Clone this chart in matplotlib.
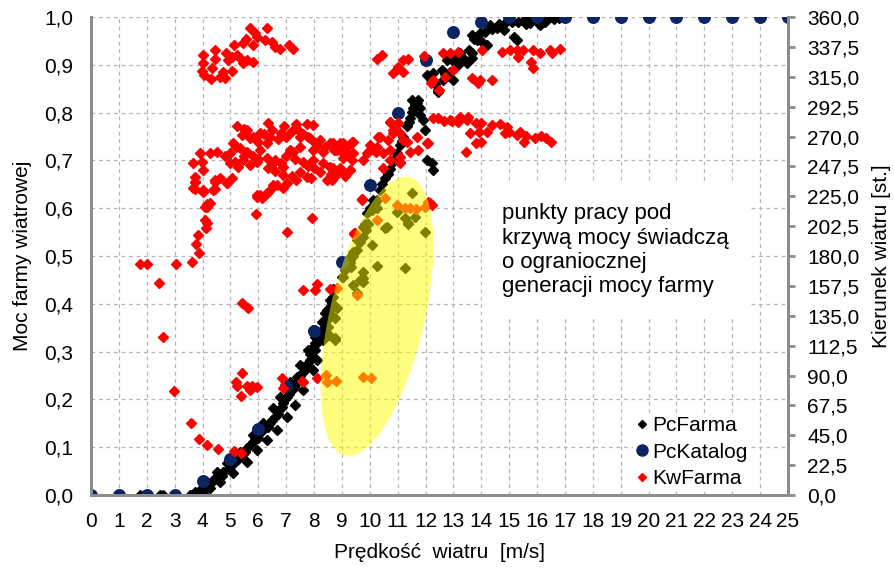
import matplotlib
matplotlib.use("Agg")
import matplotlib.pyplot as plt
import matplotlib.transforms as mtransforms
from matplotlib.patches import Ellipse
from matplotlib.lines import Line2D

plt.rcParams['font.family'] = ['Liberation Sans', 'DejaVu Sans']

# PcKatalog - catalogue power curve (per-unit) at integer wind speeds
katalog_v = list(range(0, 26))
katalog_p = [0, 0, 0, 0, 0.03, 0.075, 0.138, 0.228, 0.343, 0.488, 0.649, 0.80, 0.91,
             0.968, 0.99, 1, 1, 1, 1, 1, 1, 1, 1, 1, 1, 1]

# PcFarma - measured farm power (per-unit) vs wind speed
farma_v = [1.76, 2.0, 2.47, 2.59, 3.55, 3.67, 3.8,
           3.73, 3.91, 4.09, 4.27, 4.39, 4.57, 4.75, 4.99, 5.16, 5.34, 5.52, 5.70, 5.88, 6.06,
           6.24, 6.42, 6.60, 6.76, 6.90, 7.02, 7.20, 7.38, 7.49, 7.67, 7.79, 7.91, 8.03, 8.11,
           8.21, 8.31, 8.39, 8.49, 8.57, 8.63, 8.69,
           3.91, 4.27, 4.63, 5.10, 5.58, 5.94, 6.30, 6.66, 7.02, 7.32, 7.61, 7.97, 8.09, 8.33, 8.51,
           4.15, 4.51, 4.87, 5.34, 5.82, 6.18, 6.54, 6.78, 7.14, 7.49, 7.79, 8.03, 8.27, 8.45,
           4.0, 4.2, 4.45, 4.7, 4.9, 5.05, 5.25, 5.45, 5.6, 5.8, 6.0, 6.15, 6.35, 6.5, 6.7,
           6.85, 6.95, 7.1, 7.28, 7.45, 7.58, 7.72, 7.85, 7.97, 8.15, 8.25, 8.37, 8.44, 8.55, 8.6,
           7.97, 8.39, 8.69, 9.05, 9.29, 9.53, 9.89, 10.13, 10.0, 9.83, 9.41, 9.77, 7.61, 7.38,
           7.86, 8.03,
           8.99, 9.29, 9.53, 9.77, 9.95, 10.07, 10.25, 10.37, 10.55, 10.72, 10.84, 10.96, 11.08,
           11.20, 11.32, 11.44, 11.50, 11.62, 11.74, 11.50, 11.92, 11.98, 12.04, 12.22, 12.28,
           12.46, 11.80,
           9.1, 9.4, 9.65, 9.85, 10.2, 10.45, 10.65, 10.9, 11.15, 11.4, 11.55, 11.7,
           11.62, 11.80, 12.28, 12.10, 12.04, 12.46, 12.64, 12.88, 13.00, 13.24, 13.48, 13.66,
           13.66, 13.84, 14.02, 14.20, 13.96, 14.14, 14.32, 14.56, 14.80, 15.16, 15.28, 15.10,
           15.52, 15.76, 16.12, 16.24, 16.60, 16.78, 15.76, 12.76, 13.18, 12.58, 12.94, 13.66,
           13.24, 16.4, 16.9,
           12.2, 12.35, 12.7, 13.1, 13.35, 13.55, 13.75, 14.4, 14.65, 14.9, 15.3, 15.6, 15.9,
           16.3, 16.5,
           11.50, 10.96, 11.26, 11.62, 11.36, 10.61, 11.98, 10.07, 10.25, 11.26, 9.77, 9.29,
           10.25, 11.38, 10.55, 9.77, 9.65, 9.41, 9.53, 9.31, 9.77, 8.81, 8.75, 8.57, 8.45,
           8.75, 8.55, 8.63, 8.75, 8.51]
farma_p = [0, 0, 0, 0, 0, 0, 0,
           0.007, 0.010, 0.017, 0.024, 0.031, 0.042, 0.049, 0.059, 0.070, 0.080, 0.091, 0.105,
           0.119, 0.129, 0.140, 0.150, 0.164, 0.178, 0.192, 0.206, 0.220, 0.234, 0.248, 0.262,
           0.276, 0.290, 0.303, 0.317, 0.331, 0.345, 0.359, 0.373, 0.387, 0.401, 0.415,
           0.002, 0.014, 0.028, 0.047, 0.070, 0.094, 0.115, 0.136, 0.164, 0.188, 0.220, 0.262,
           0.282, 0.324, 0.352,
           0.028, 0.049, 0.066, 0.091, 0.126, 0.150, 0.181, 0.206, 0.237, 0.272, 0.303, 0.331,
           0.362, 0.387,
           0.005, 0.020, 0.033, 0.040, 0.055, 0.065, 0.073, 0.085, 0.098, 0.110, 0.120, 0.135,
           0.143, 0.157, 0.170, 0.185, 0.200, 0.212, 0.226, 0.240, 0.256, 0.270, 0.296, 0.310,
           0.325, 0.340, 0.350, 0.366, 0.380, 0.395,
           0.345, 0.380, 0.430, 0.457, 0.499, 0.533, 0.589, 0.617, 0.600, 0.568, 0.509, 0.561,
           0.268, 0.247, 0.282, 0.317,
           0.457, 0.485, 0.513, 0.540, 0.568, 0.596, 0.617, 0.638, 0.663, 0.683, 0.697, 0.715,
           0.732, 0.750, 0.771, 0.788, 0.802, 0.816, 0.826, 0.826, 0.785, 0.764, 0.701, 0.694,
           0.680, 0.844, 0.795,
           0.470, 0.500, 0.530, 0.555, 0.610, 0.650, 0.672, 0.705, 0.740, 0.780, 0.810, 0.820,
           0.819, 0.809, 0.882, 0.876, 0.878, 0.847, 0.868, 0.886, 0.868, 0.910, 0.903, 0.924,
           0.962, 0.952, 0.948, 0.941, 0.966, 0.968, 0.983, 0.977, 0.973, 0.959, 0.952, 0.990,
           0.994, 0.987, 0.983, 0.994, 0.996, 0.999, 0.997, 0.910, 0.900, 0.889, 0.910, 0.914,
           0.924, 0.998, 1.0,
           0.870, 0.860, 0.880, 0.920, 0.915, 0.930, 0.955, 0.975, 0.985, 0.990, 0.990, 0.985,
           0.995, 0.990, 1.0,
           0.631, 0.593, 0.579, 0.582, 0.568, 0.561, 0.551, 0.523, 0.479, 0.474, 0.467, 0.492,
           0.600, 0.570, 0.559, 0.453, 0.450, 0.439, 0.422, 0.476, 0.446, 0.391, 0.370, 0.408,
           0.366, 0.324, 0.335, 0.429, 0.328, 0.335]

# KwFarma - wind direction [deg] vs wind speed
kw_v = [5.70, 6.30, 5.88, 5.56, 5.94, 5.46, 5.13, 5.82, 6.24, 6.48, 6.60, 6.78, 7.11, 7.25,
        4.45, 4.03, 4.86, 5.04, 5.22, 4.92, 5.34, 5.58, 5.82, 5.46, 4.45, 4.03, 4.33, 3.97,
        4.05, 4.30, 4.63, 4.81, 4.75, 5.07,
        5.25, 6.36, 6.92, 7.37, 7.73, 7.97, 5.58, 5.40, 5.70, 6.06, 6.42, 6.90, 7.14, 7.50,
        7.85, 8.21, 8.57, 8.93, 9.35, 5.10, 5.34, 5.00, 6.06, 6.30, 7.14, 7.50, 7.97, 8.33,
        8.75, 9.17, 3.91, 4.27, 4.51, 3.67, 3.97, 4.03, 3.73, 3.73, 4.03, 3.67, 4.45, 4.63,
        4.39, 4.87, 5.04, 5.16, 5.46, 5.70, 5.94, 5.28, 6.30, 6.54, 6.90, 6.36, 7.26, 7.62,
        7.97, 8.33, 8.57, 8.93, 9.29, 8.21, 8.45, 7.73, 7.37, 7.02, 6.66, 6.90, 6.42, 6.06,
        6.30, 5.94, 4.27, 4.15, 9.41, 9.05,
        5.5, 5.8, 6.0, 6.2, 6.5, 6.7, 6.8, 7.0, 7.2, 7.4, 7.6, 7.8, 8.0, 8.1, 8.4, 8.7, 9.0,
        9.2, 5.6, 5.8, 6.0, 6.6, 6.8, 7.0, 7.3, 7.8, 8.0, 8.6, 8.8, 9.1, 6.6, 6.9, 7.2, 7.5,
        7.9, 5.2, 5.5, 5.0, 4.8,
        9.89, 10.25, 10.49, 10.37, 10.73, 11.0, 10.85, 11.2, 10.0, 10.73, 11.09, 9.77, 9.71,
        10.72, 11.02, 10.84, 11.08, 10.31, 10.67, 11.32, 11.68, 10.01, 10.24, 10.72, 11.08,
        11.44, 11.74, 12.06, 10.48, 11.08, 12.46, 12.88, 13.18, 13.48,
        8.69, 9.05, 9.41, 8.81, 9.17, 9.35, 8.69, 8.93, 9.29, 8.63, 9.71, 9.43,
        10.55, 10.97, 11.26, 11.44, 11.66, 11.98, 12.22, 12.10, 10.25, 9.53, 12.16, 9.47,
        3.73, 3.73, 4.03, 4.45, 4.45, 4.87, 6.54, 5.94, 6.12, 6.24, 4.09, 4.15, 5.92, 7.91,
        4.09, 4.15, 4.12, 7.02, 3.85, 3.75, 3.88, 3.61, 1.76, 2.00, 3.04, 2.45, 2.59, 5.43,
        5.64, 7.62, 8.03, 8.12, 8.57, 8.81, 9.43, 9.72, 5.43,
        5.19, 5.25, 5.58, 5.70, 5.94, 5.76, 5.38, 3.57, 3.89, 4.17, 4.57, 5.13, 5.38, 6.84,
        6.88, 7.56, 7.62, 8.09, 8.42, 8.45, 8.78, 2.99, 9.74, 10.04,
        10.25, 10.45, 10.82, 11.02, 11.18, 11.20, 11.38, 11.94, 12.21, 12.25, 12.49, 12.64,
        12.88, 13.17, 12.99, 12.70, 13.65, 13.95, 13.89, 14.37, 14.01, 14.73, 15.03, 15.27,
        15.51, 15.33, 15.84, 15.80, 15.84, 16.10, 16.46, 16.52, 16.82,
        12.26, 12.65, 12.95, 13.24, 13.54, 13.81, 13.98, 13.61, 13.91, 14.21, 14.39, 14.66,
        14.91, 14.85, 15.01, 15.27, 15.40, 15.59, 15.53, 15.92, 16.15, 16.33, 16.51, 13.82,
        14.00, 13.44, 12.10]
kw_deg = [351.5, 351.9, 347.7, 343.2, 345.2, 340.2, 338.9, 338.9, 342.7, 341.4, 337.6, 335.7,
          338.9, 335.7, 335.1, 331.4, 332.6, 330.1, 331.4, 327.6, 328.9, 327.6, 326.3, 325.6,
          328.1, 325.6, 321.3, 319.6, 316.3, 313.1, 315.0, 313.8, 318.8, 319.6,
          278.1, 280.4, 277.9, 279.4, 279.4, 278.4, 274.9, 271.1, 268.6, 272.4, 269.9, 271.1,
          272.4, 269.9, 268.6, 267.4, 264.8, 264.8, 266.1, 264.8, 261.1, 257.3, 259.8, 264.8,
          259.8, 262.3, 259.8, 258.5, 259.8, 262.3, 257.3, 257.3, 258.5, 249.8, 251.0, 244.8,
          239.7, 236.0, 229.7, 231.0, 237.2, 238.5, 229.7, 234.7, 238.5, 251.0, 252.3, 248.5,
          251.0, 247.3, 253.5, 249.8, 247.3, 246.0, 258.5, 251.0, 252.3, 249.8, 247.3, 244.8,
          244.8, 243.5, 237.2, 239.7, 237.2, 234.7, 233.5, 231.0, 229.7, 225.9, 227.2, 224.7,
          219.7, 217.0, 257.3, 253.5,
          276, 270, 266, 272, 275, 268, 273, 270, 274, 276, 272, 270, 266, 263, 262, 260, 258,
          257, 258, 255, 253, 252, 250, 255, 253, 248, 246, 242, 241, 240, 244, 241, 240, 243,
          239, 262, 255, 250, 255,
          257.3, 262.3, 257.3, 269.9, 281.1, 280.0, 272.4, 267.4, 260.0, 252.3, 251.0, 252.3,
          222.7, 281.2, 280.0, 274.9, 272.4, 269.9, 267.4, 266.1, 269.9, 263.6, 258.5, 259.8,
          254.8, 258.5, 259.8, 264.8, 246.0, 249.8, 283.7, 282.5, 281.2, 282.5,
          264.8, 264.8, 266.1, 259.8, 256.1, 252.3, 246.0, 246.0, 244.8, 237.2, 222.2, 197.1,
          223.4, 218.4, 215.9, 215.9, 215.5, 217.2, 218.4, 220.9, 207.1, 150.6, 219.7, 197.1,
          236.0, 230.2, 228.4, 236.0, 230.2, 234.7, 233.5, 225.9, 223.4, 225.9, 217.1, 219.1,
          211.6, 208.4, 207.1, 204.6, 200.9, 198.3, 195.8, 188.8, 182.0, 175.7, 174.0, 174.0,
          174.0, 159.4, 119.2, 144.8, 140.6, 154.4, 154.1, 158.9, 154.8, 156.0, 196.6, 222.7,
          92.1,
          85.3, 82.3, 82.3, 79.1, 81.4, 82.3, 74.6, 54.4, 42.2, 37.4, 34.4, 33.4, 31.4, 87.9,
          80.8, 85.9, 84.8, 87.9, 90.4, 85.1, 85.5, 78.6, 88.6, 87.9,
          328.1, 331.4, 318.0, 322.6, 318.5, 327.6, 328.1, 330.6, 310.0, 312.5, 305.0, 332.6,
          332.6, 333.9, 320.1, 315.0, 313.8, 312.5, 310.0, 312.5, 335.1, 333.9, 335.1, 335.1,
          335.1, 330.1, 335.1, 326.3, 321.3, 332.6, 335.1, 332.6, 336.1,
          283.7, 281.9, 281.6, 284.9, 284.6, 279.9, 280.2, 272.9, 273.6, 273.6, 278.6, 279.1,
          277.3, 272.4, 273.6, 271.1, 273.6, 270.5, 266.1, 268.6, 270.5, 268.6, 266.1, 264.9,
          266.1, 258.5, 264.9]

x_ticks = list(range(0, 26))
p_ticks = [i / 10 for i in range(0, 11)]
deg_ticks = [i * 22.5 for i in range(0, 17)]

NAVY = '#0c2463'
GRAY = '#8c8c8c'
FS = 15

fig = plt.figure(figsize=(8.94, 5.68), dpi=100)
ax = fig.add_axes([0.1018, 0.1285, 0.7796, 0.8415])
ax2 = ax.twinx()

ax.plot(farma_v, farma_p, linestyle='none', marker='D', markersize=5.4, color='black', zorder=3)
ax.plot(katalog_v, katalog_p, linestyle='none', marker='o', markersize=8.3, color=NAVY, zorder=4)
ax2.plot(kw_v, kw_deg, linestyle='none', marker='D', markersize=4.8, color='#ff0000', zorder=3)

ax.set_xlim(0, 25)
ax.set_ylim(0, 1.0)
ax2.set_ylim(0, 360)
ax.set_xticks(x_ticks)
ax.set_yticks(p_ticks)
ax2.set_yticks(deg_ticks)
ax.set_yticklabels([f'{v:.1f}'.replace('.', ',') for v in p_ticks])
ax2.set_yticklabels([f'{v:.1f}'.replace('.', ',') for v in deg_ticks])

ax.grid(True, linestyle=(0, (3, 3)), color='#b4b4b4', linewidth=0.9)
ax.set_axisbelow(True)

for a in (ax, ax2):
    a.spines['top'].set_visible(False)
    for s in ('left', 'right', 'bottom'):
        a.spines[s].set_color(GRAY)
        a.spines[s].set_linewidth(2)
        a.spines[s].set_zorder(10)
ax.tick_params(axis='y', length=0, labelsize=FS, pad=13)
ax.tick_params(axis='x', length=0, labelsize=FS, pad=12)
ax2.tick_params(axis='y', length=5, width=2, color=GRAY, direction='out', labelsize=FS, pad=9)

ax.set_xlabel('Prędkość  wiatru  [m/s]', fontsize=FS, labelpad=9)
ax.set_ylabel('Moc farmy wiatrowej', fontsize=FS)
ax.yaxis.set_label_coords(-0.085, 0.5)
ax2.set_ylabel('Kierunek wiatru [st.]', fontsize=FS)
ax2.yaxis.set_label_coords(1.12, 0.5)

# yellow highlight ellipse (size in inches, centre in data coords)
trans = fig.dpi_scale_trans + mtransforms.ScaledTranslation(10.26, 0.374 * 360, ax2.transData)
ell = Ellipse((0, 0), 2.86, 0.95, angle=77.0, transform=trans,
              facecolor='#ffff00', edgecolor='none', alpha=0.5, zorder=5)
ax2.add_patch(ell)

ax2.text(0.589, 0.61, 'punkty pracy pod\nkrzywą mocy świadczą\no ograniocznej\ngeneracji mocy farmy',
         transform=ax.transAxes, fontsize=16, va='top', ha='left', linespacing=1.2,
         bbox=dict(facecolor='white', edgecolor='none', pad=14), zorder=6)

handles = [Line2D([], [], linestyle='none', marker='D', markersize=4, color='black'),
           Line2D([], [], linestyle='none', marker='o', markersize=8, color=NAVY),
           Line2D([], [], linestyle='none', marker='D', markersize=4, color='#ff0000')]
leg = ax2.legend(handles, ['PcFarma', 'PcKatalog', 'KwFarma'], loc='lower left',
                 bbox_to_anchor=(0.763, -0.012), fontsize=FS, frameon=True, fancybox=False,
                 framealpha=1, edgecolor='white', handlelength=0.6, handletextpad=0.2,
                 labelspacing=0.37, borderpad=0.1)
leg.set_zorder(7)

fig.savefig('out.png', dpi=100)
